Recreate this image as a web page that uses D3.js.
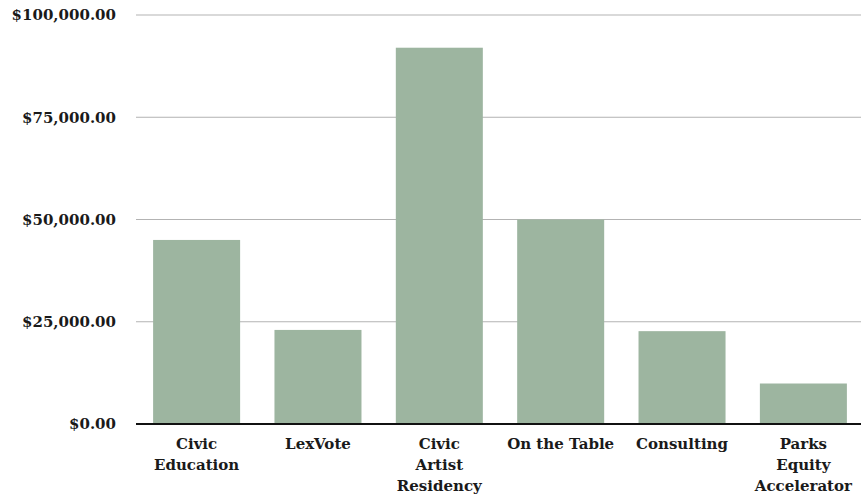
<!DOCTYPE html>
<html>
<head>
<meta charset="utf-8">
<script src="https://cdn.jsdelivr.net/npm/d3@7"></script>
<style>
  body { margin: 0; background: #fff; }
  svg text { font-family: "DejaVu Serif", serif; font-weight: bold; fill: #1a1a1a; }
</style>
</head>
<body>
<svg id="chart" width="861" height="500"></svg>
<script>
// данные программ
const programs = [["Civic", "Education"], ["LexVote"], ["Civic", "Artist", "Residency"], ["On the Table"], ["Consulting"], ["Parks", "Equity", "Accelerator"]]
const amounts = [45000, 23000, 92000, 50000, 22700, 9900]
const yTicks = [0, 25000, 50000, 75000, 100000]

const svg = d3.select("#chart")
const margin = { left: 136, right: -3, top: 15, bottom: 76 }
const width = 861, height = 500

const x = d3.scaleBand()
	.domain(d3.range(programs.length))
	.range([margin.left, width - margin.right])
	.paddingInner(0.283)
	.paddingOuter(0.141)

const y = d3.scaleLinear()
	.domain([0, 100000])
	.range([height - margin.bottom, margin.top])

const fmt = d => "$" + d3.format(",.2f")(d)

// сетка
svg.append("g")
	.selectAll("line")
	.data(yTicks.slice(1))
	.join("line")
	.attr("x1", margin.left).attr("x2", width)
	.attr("y1", d => y(d)).attr("y2", d => y(d))
	.attr("stroke", "#b3b3b3")
	.attr("stroke-width", 1)

svg.append("g")
	.selectAll("text")
	.data(yTicks)
	.join("text")
	.attr("x", 116)
	.attr("y", d => y(d))
	.attr("dy", "0.35em")
	.attr("text-anchor", "end")
	.style("font-size", "15px")
	.text(fmt)

svg.append("g")
	.selectAll("rect")
	.data(amounts)
	.join("rect")
	.attr("x", (d, i) => x(i))
	.attr("width", x.bandwidth())
	.attr("y", d => y(d))
	.attr("height", d => y(0) - y(d))
	.attr("fill", "#9db5a0")

svg.append("line")
	.attr("x1", margin.left).attr("x2", width)
	.attr("y1", y(0)).attr("y2", y(0))
	.attr("stroke", "#111")
	.attr("stroke-width", 2)

const labels = svg.append("g")
	.selectAll("text")
	.data(programs)
	.join("text")
	.attr("x", (d, i) => x(i) + x.bandwidth() / 2)
	.attr("y", y(0) + 25)
	.attr("text-anchor", "middle")
	.style("font-size", "15px")

labels.selectAll("tspan")
	.data(d => d)
	.join("tspan")
	.attr("x", function () { return this.parentNode.getAttribute("x") })
	.attr("dy", (d, i) => i ? 21 : 0)
	.text(d => d)
</script>
</body>
</html>
